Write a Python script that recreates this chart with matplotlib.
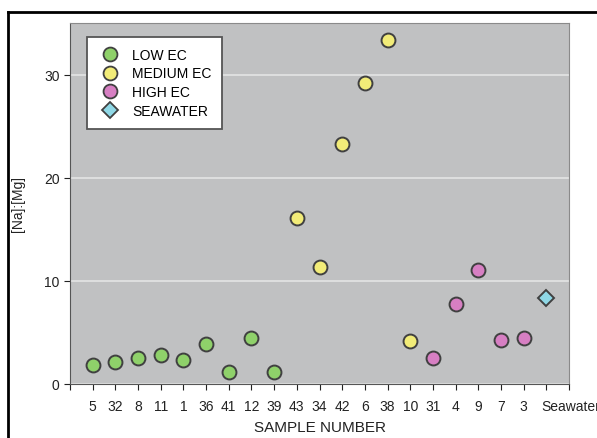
#!/usr/bin/env python3

import matplotlib.pyplot as plt
from matplotlib.lines import Line2D
from matplotlib.transforms import ScaledTranslation

plt.rcParams['font.family'] = ['Liberation Sans', 'DejaVu Sans']

samples = ['5', '32', '8', '11', '1', '36', '41', '12', '39', '43', '34', '42',
           '6', '38', '10', '31', '4', '9', '7', '3', 'Seawater']
ratio = [1.8, 2.1, 2.5, 2.8, 2.3, 3.9, 1.2, 4.5, 1.2, 16.1, 11.3, 23.3,
         29.2, 33.4, 4.2, 2.5, 7.8, 11.1, 4.3, 4.5, 8.3]
group = ['low'] * 9 + ['medium'] * 6 + ['high'] * 5 + ['sea']

colors = {'low': '#8fd16a', 'medium': '#f2ec78', 'high': '#d77fc3', 'sea': '#8fd8e6'}
labels = {'low': 'LOW EC', 'medium': 'MEDIUM EC', 'high': 'HIGH EC', 'sea': 'SEAWATER'}
edge = '#404040'

fig = plt.figure(figsize=(5.97, 4.39), dpi=100)
ax = fig.add_axes([70 / 597, 1 - 385 / 439, 499 / 597, 361 / 439])
ax.set_facecolor('#c0c1c2')

for i, (v, g) in enumerate(zip(ratio, group)):
	mk = 'D' if g == 'sea' else 'o'
	ms = 8.5 if g == 'sea' else 10
	ax.plot(i, v, marker=mk, ms=ms, mfc=colors[g], mec=edge, mew=1.4, ls='none', zorder=3)

n = len(samples)
ax.set_xlim(-1, n)
ax.set_ylim(0, 35)
ax.set_yticks([0, 10, 20, 30])
ax.set_xticks(range(-1, n + 1))
ax.set_xticklabels([''] + samples + [''])
ax.yaxis.grid(True, color='#e4e4e4', lw=1.2)
ax.set_axisbelow(True)

for s in ['top', 'right']:
	ax.spines[s].set_color('#8a8a8a')
for s in ['left', 'bottom']:
	ax.spines[s].set_color('#555555')
ax.tick_params(colors='#222222', labelsize=10, length=4, direction='out')
ax.tick_params(axis='x', pad=7)

# last label starts just left of its tick
sea = ax.get_xticklabels()[n]
sea.set_ha('left')
sea.set_transform(sea.get_transform() + ScaledTranslation(-0.05, 0, fig.dpi_scale_trans))

ax.set_xlabel('SAMPLE NUMBER', fontsize=11, color='#222222', labelpad=5)
ax.set_ylabel('[Na]:[Mg]', fontsize=10, color='#222222', labelpad=14)

handles = []
for g in ['low', 'medium', 'high', 'sea']:
	mk = 'D' if g == 'sea' else 'o'
	handles.append(Line2D([], [], marker=mk, ls='none', ms=10 if mk == 'o' else 8,
	                      mfc=colors[g], mec=edge, mew=1.3, label=labels[g]))
leg = ax.legend(handles=handles, loc='upper left', bbox_to_anchor=(0.02, 0.98),
                fontsize=10, frameon=True, fancybox=False, framealpha=1,
                handletextpad=0.7, labelspacing=0.35, borderpad=0.75, handlelength=1.8)
leg.get_frame().set_edgecolor('#555555')
leg.get_frame().set_linewidth(1.3)

# outer frame, top and left edges
fig.add_artist(Line2D([8 / 597, 1], [1 - 13 / 439] * 2, color='black', lw=2))
fig.add_artist(Line2D([8 / 597] * 2, [0, 1 - 13 / 439], color='black', lw=2))

fig.savefig('out.png', dpi=100)
